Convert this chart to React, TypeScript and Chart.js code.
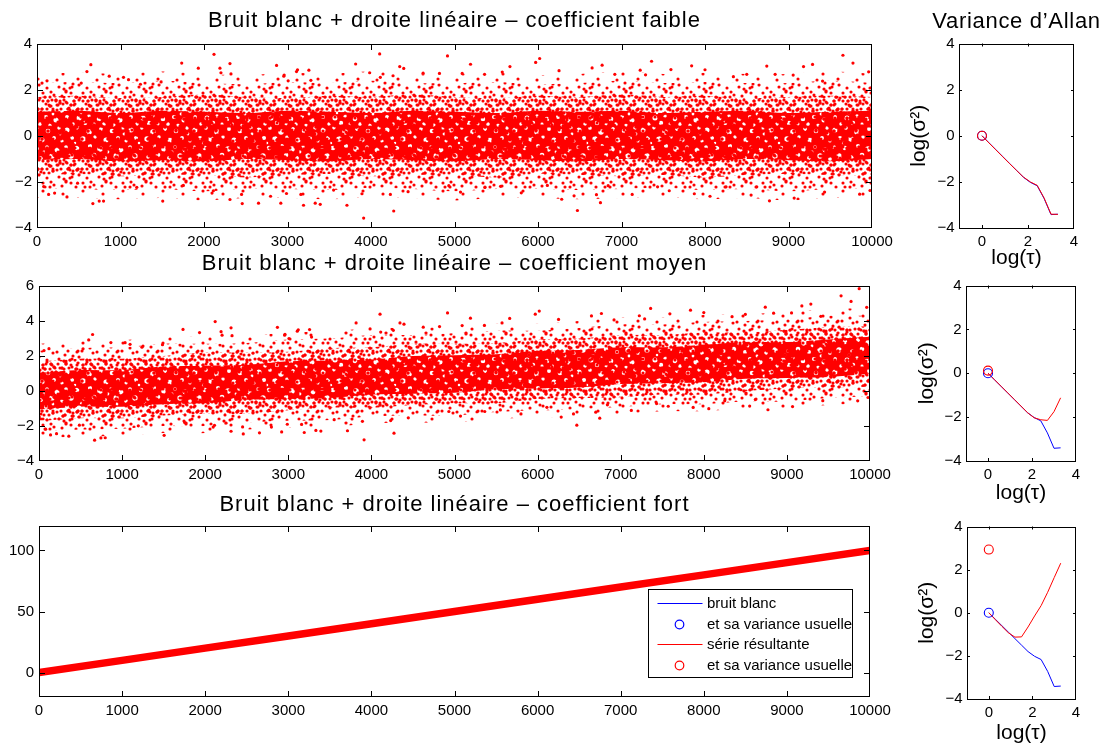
import React, { useEffect, useRef } from "react";
import { Chart, registerables } from "chart.js";

Chart.register(...registerables);

// ------------------------------------------------------------------ data
const SAMPLE_TICKS = [0, 1000, 2000, 3000, 4000, 5000, 6000, 7000, 8000, 9000, 10000];
const FAIBLE_Y_TICKS = [-4, -2, 0, 2, 4];
const MOYEN_Y_TICKS = [-4, -2, 0, 2, 4, 6];
const FORT_Y_TICKS = [0, 50, 100];
const LOG_TAU_TICKS = [0, 2, 4];
const LOG_SIGMA_TICKS = [-4, -2, 0, 2, 4];

const MAIN_TITLES = [
  "Bruit blanc + droite linéaire – coefficient faible",
  "Bruit blanc + droite linéaire – coefficient moyen",
  "Bruit blanc + droite linéaire – coefficient fort",
];
const ALLAN_TITLE = "Variance d’Allan";
const LOG_SIGMA_LABEL = "log(σ²)";
const LOG_TAU_LABEL = "log(τ)";

// envelopes of the point cloud (read every 500 samples)
const ENVELOPE_X = [0, 500, 1000, 1500, 2000, 2500, 3000, 3500, 4000, 4500, 5000, 5500, 6000, 6500, 7000, 7500, 8000, 8500, 9000, 9500, 10000];

const FAIBLE_CORE_HIGH = [1.05, 1.1, 1.0, 1.1, 1.05, 1.0, 1.1, 1.05, 1.0, 1.1, 1.05, 1.0, 1.1, 1.05, 1.1, 1.0, 1.05, 1.1, 1.0, 1.05, 1.1];
const FAIBLE_CORE_LOW = [-1.05, -1.0, -1.1, -1.05, -1.1, -1.0, -1.05, -1.1, -1.0, -1.05, -1.1, -1.0, -1.05, -1.1, -1.0, -1.05, -1.1, -1.0, -1.05, -1.1, -1.0];
const FAIBLE_MID_HIGH = [1.7, 1.75, 1.65, 1.7, 1.8, 1.7, 1.65, 1.75, 1.7, 1.8, 1.7, 1.65, 1.75, 1.7, 1.8, 1.7, 1.75, 1.65, 1.7, 1.75, 1.7];
const FAIBLE_MID_LOW = [-1.7, -1.65, -1.75, -1.7, -1.7, -1.8, -1.7, -1.65, -1.75, -1.7, -1.7, -1.8, -1.65, -1.7, -1.75, -1.7, -1.8, -1.7, -1.65, -1.7, -1.75];
const FAIBLE_OUTER_HIGH = [2.3, 2.35, 2.3, 2.4, 2.3, 2.25, 2.35, 2.3, 2.4, 2.3, 2.3, 2.35, 2.25, 2.3, 2.4, 2.3, 2.35, 2.3, 2.3, 2.4, 2.3];
const FAIBLE_OUTER_LOW = [-2.3, -2.3, -2.35, -2.3, -2.4, -2.3, -2.3, -2.35, -2.25, -2.3, -2.4, -2.3, -2.3, -2.35, -2.3, -2.25, -2.35, -2.3, -2.4, -2.3, -2.3];
const FAIBLE_FRINGE_HIGH = [2.7, 2.75, 2.7, 2.8, 2.7, 2.65, 2.75, 2.7, 2.8, 2.7, 2.7, 2.75, 2.65, 2.7, 2.8, 2.7, 2.75, 2.7, 2.7, 2.8, 2.7];
const FAIBLE_FRINGE_LOW = [-2.7, -2.7, -2.75, -2.7, -2.8, -2.7, -2.7, -2.75, -2.65, -2.7, -2.8, -2.7, -2.7, -2.75, -2.7, -2.65, -2.75, -2.7, -2.8, -2.7, -2.7];

const MOYEN_CORE_HIGH = [1.05, 1.2, 1.2, 1.4, 1.45, 1.5, 1.7, 1.75, 1.8, 2.0, 2.05, 2.1, 2.3, 2.35, 2.5, 2.5, 2.65, 2.8, 2.8, 2.95, 3.1];
const MOYEN_CORE_LOW = [-1.05, -0.9, -0.9, -0.75, -0.7, -0.5, -0.45, -0.4, -0.2, -0.15, -0.1, 0.1, 0.15, 0.2, 0.4, 0.45, 0.5, 0.7, 0.75, 0.8, 1.0];
const MOYEN_MID_HIGH = [1.7, 1.85, 1.85, 2.0, 2.2, 2.2, 2.25, 2.45, 2.5, 2.7, 2.7, 2.75, 2.95, 3.0, 3.2, 3.2, 3.35, 3.35, 3.5, 3.65, 3.7];
const MOYEN_MID_LOW = [-1.7, -1.55, -1.55, -1.4, -1.3, -1.3, -1.1, -0.95, -0.95, -0.8, -0.7, -0.7, -0.45, -0.4, -0.35, -0.2, -0.2, 0.0, 0.15, 0.2, 0.25];
const MOYEN_OUTER_HIGH = [2.3, 2.45, 2.5, 2.7, 2.7, 2.75, 2.95, 3.0, 3.2, 3.2, 3.3, 3.45, 3.45, 3.6, 3.8, 3.8, 3.95, 4.0, 4.1, 4.3, 4.3];
const MOYEN_OUTER_LOW = [-2.3, -2.2, -2.15, -2.0, -2.0, -1.8, -1.7, -1.65, -1.45, -1.4, -1.4, -1.2, -1.1, -1.05, -0.9, -0.75, -0.75, -0.6, -0.6, -0.4, -0.3];
const MOYEN_FRINGE_HIGH = [2.7, 2.85, 2.9, 3.1, 3.1, 3.15, 3.35, 3.4, 3.6, 3.6, 3.7, 3.85, 3.85, 4.0, 4.2, 4.2, 4.35, 4.4, 4.5, 4.7, 4.7];
const MOYEN_FRINGE_LOW = [-2.7, -2.6, -2.55, -2.4, -2.4, -2.2, -2.1, -2.05, -1.85, -1.8, -1.8, -1.6, -1.5, -1.45, -1.3, -1.15, -1.15, -1.0, -1.0, -0.8, -0.7];

// isolated points read outside the dense cloud: [sample, value]
const FAIBLE_SPARSE_POINTS: [number, number][] = [
  [645, 3.1], [598, 2.8], [530, 2.3], [60, 2.3], [120, 2.4], [865, 2.6], [1036, 2.55], [1096, 2.45], [1733, 3.17], [2120, 3.55],
  [1932, 2.95], [2191, 2.95], [2203, 2.75], [2311, 3.15], [2323, 2.7], [2869, 3.07], [2956, 2.6], [3008, 2.4], [3108, 2.8], [1486, 2.35],
  [1239, 2.25], [669, -2.94], [745, -2.83], [797, -2.83], [139, -2.54], [211, -2.48], [359, -2.65], [80, -2.2], [1506, -2.83], [2112, -2.38],
  [2096, -2.48], [2311, -2.76], [2458, -2.94], [2450, -2.54], [2653, -2.92], [2920, -2.92], [2797, -2.62], [2988, -2.5], [486, -2.05], [1195, -2.23],
  [1753, -2.15], [4104, 3.57], [4916, 3.48], [3816, 3.13], [6020, 3.37], [5972, 3.2], [5192, 3.12], [5664, 3.02], [4344, 3.02], [4392, 2.94],
  [3120, 2.88], [3256, 2.86], [3984, 2.75], [4624, 2.73], [4820, 2.72], [5092, 2.72], [5360, 2.68], [5572, 2.78], [6252, 2.84], [2960, 2.65],
  [3280, 2.42], [4264, 2.62], [4112, 2.55], [3912, -3.57], [4272, -3.26], [3192, -3.01], [3332, -2.92], [3392, -2.97], [3712, -3.01], [4232, -2.54],
  [3892, -2.51], [4444, -2.42], [5072, -2.44], [5364, -2.24], [5800, -2.47], [6284, -2.75], [6472, -3.24], [6432, -2.6], [3160, -2.54], [3552, -2.35],
  [4932, -2.16], [5552, -2.19], [6112, -2.15], [9652, 3.51], [9772, 3.17], [7360, 3.25], [6768, 3.08], [6648, 2.96], [7224, 2.86], [7288, 2.66],
  [7840, 3.05], [8000, 2.88], [8740, 3.04], [9180, 3.02], [9288, 3.11], [8500, 2.68], [8840, 2.68], [9056, 2.65], [9960, 2.79], [6920, 2.68],
  [7592, 2.89], [9408, 2.39], [8340, 2.58], [6748, -2.9], [6700, -2.55], [7128, -2.54], [7872, -2.51], [8060, -2.62], [8772, -2.82], [9068, -2.7],
  [8552, -2.57], [9432, -2.44], [9852, -2.53], [9976, -2.37], [7432, -2.21], [8252, -2.21], [6840, -2.16], [8620, -2.21], [7572, -2.38],
];

const MOYEN_SPARSE_POINTS: [number, number][] = [
  [645, 3.23], [598, 2.92], [530, 2.41], [60, 2.31], [120, 2.42], [865, 2.77], [1036, 2.76], [1096, 2.67], [1733, 3.52], [2120, 3.97],
  [1932, 3.34], [2191, 3.39], [2203, 3.19], [2311, 3.61], [2323, 3.16], [2869, 3.64], [2956, 3.19], [3008, 3.0], [3108, 3.42], [1486, 2.65],
  [1239, 2.5], [669, -2.81], [745, -2.68], [797, -2.67], [139, -2.51], [211, -2.44], [359, -2.58], [80, -2.18], [1506, -2.53], [2112, -1.96],
  [2096, -2.06], [2311, -2.3], [2458, -2.45], [2450, -2.05], [2653, -2.39], [2920, -2.34], [2797, -2.06], [2988, -1.9], [486, -1.95], [1195, -1.99],
  [1753, -1.8], [4104, 4.39], [4916, 4.46], [3816, 3.89], [6020, 4.57], [5972, 4.39], [5192, 4.16], [5664, 4.15], [4344, 3.89], [4392, 3.82],
  [3120, 3.5], [3256, 3.51], [3984, 3.55], [4624, 3.65], [4820, 3.68], [5092, 3.74], [5360, 3.75], [5572, 3.89], [6252, 4.09], [2960, 3.24],
  [3280, 3.08], [4264, 3.47], [4112, 3.37], [3912, -2.79], [4272, -2.41], [3192, -2.37], [3332, -2.25], [3392, -2.29], [3712, -2.27], [4232, -1.69],
  [3892, -1.73], [4444, -1.53], [5072, -1.43], [5364, -1.17], [5800, -1.31], [6284, -1.49], [6472, -1.95], [6432, -1.31], [3160, -1.91], [3552, -1.64],
  [4932, -1.17], [5552, -1.08], [6112, -0.93], [9652, 5.44], [9870, 5.85], [9772, 5.12], [7360, 4.72], [6768, 4.43], [6648, 4.29], [7224, 4.3],
  [7288, 4.12], [7840, 4.62], [8000, 4.48], [8740, 4.79], [9180, 4.86], [9288, 4.97], [8500, 4.38], [8840, 4.45], [9056, 4.46], [9960, 4.78],
  [6920, 4.06], [7592, 4.41], [9408, 4.27], [8340, 4.25], [6748, -1.55], [6700, -1.21], [7128, -1.11], [7872, -0.94], [8060, -1.01], [8772, -1.07],
  [9068, -0.89], [8552, -0.86], [9432, -0.55], [9852, -0.56], [9976, -0.37], [7432, -0.72], [8252, -0.56], [6840, -0.79], [8620, -0.49], [7572, -0.87],
];

// strong coefficient: the cloud hugs the line
const FORT_X = [0, 1000, 2000, 3000, 4000, 5000, 6000, 7000, 8000, 9000, 10000];
const FORT_Y = [0, 10, 20, 30, 40, 50, 60, 70, 80, 90, 100];

// Allan variance curves
const LOG_TAU = [0, 0.3, 0.6, 0.9, 1.2, 1.5, 1.8, 2.1, 2.4, 2.7, 3.0, 3.3];
const ALLAN_BRUIT_BLANC = [0, -0.3, -0.6, -0.9, -1.2, -1.5, -1.8, -2.02, -2.17, -2.72, -3.42, -3.4];
const ALLAN_SERIE_FAIBLE = [0, -0.31, -0.61, -0.91, -1.21, -1.5, -1.79, -2.0, -2.15, -2.7, -3.4, -3.41];
const ALLAN_SERIE_MOYEN = [0, -0.3, -0.6, -0.9, -1.2, -1.5, -1.8, -2.03, -2.12, -2.15, -1.75, -1.12];
const ALLAN_SERIE_FORT = [0, -0.32, -0.63, -0.93, -1.13, -1.12, -0.66, -0.15, 0.33, 0.95, 1.63, 2.3];

// usual variance (log) of each series: [log tau, log sigma^2]
const USUELLE_BRUIT_BLANC: [number, number] = [0, 0];
const USUELLE_FAIBLE: [number, number] = [0, 0];
const USUELLE_MOYEN: [number, number] = [0, 0.12];
const USUELLE_FORT: [number, number] = [0, 2.93];

const LEGEND_LABELS = ["bruit blanc", "et sa variance usuelle", "série résultante", "et sa variance usuelle"];

// ------------------------------------------------------------------ styles
const RED = "#ff0000";
const BLUE = "#0000ff";
const FONT = "'Liberation Sans', Arial, Helvetica, sans-serif";
const TICK_SIZE = 15;
const LABEL_SIZE = 21;

// texture of the dense cloud (style only)
const TEX_W = 40;
const TEX_H = 30;
const TEXTURE_DOTS = [
  [3, 3], [14, 5], [26, 2], [36, 7], [8, 11], [20, 13], [31, 15], [2, 19], [13, 21], [25, 23], [37, 20], [7, 28],
  [19, 27], [30, 28], [34, 11], [10, 16], [22, 6], [28, 19], [16, 10], [39, 25], [5, 7], [24, 29], [33, 24], [11, 2],
];
const HOLE_W = 64;
const HOLE_H = 48;
const TEXTURE_HOLES = [
  [3, 4, 2.2], [14, 2, 1.6], [25, 6, 2.4], [37, 3, 1.7], [48, 5, 2.0], [59, 2, 1.5],
  [8, 12, 1.8], [19, 13, 2.3], [31, 11, 1.5], [42, 14, 2.2], [54, 12, 1.7], [62, 15, 1.4],
  [2, 21, 1.6], [13, 22, 2.0], [26, 20, 1.8], [36, 23, 2.4], [47, 21, 1.5], [57, 24, 2.1],
  [7, 30, 2.3], [20, 31, 1.5], [30, 29, 2.0], [41, 32, 1.7], [52, 30, 2.3], [62, 33, 1.6],
  [3, 39, 1.7], [15, 40, 2.2], [25, 38, 1.5], [35, 41, 2.0], [46, 39, 1.8], [56, 42, 2.2],
  [9, 46, 1.5], [21, 45, 1.9], [40, 46, 1.6], [50, 47, 1.4], [30, 46, 1.3], [60, 8, 1.2],
  [44, 26, 1.2], [17, 35, 1.1], [53, 36, 1.2], [11, 17, 1.1],
];

function makeDotsPattern(ctx: CanvasRenderingContext2D, shifts: number[][], every = 1) {
  const c = document.createElement("canvas");
  c.width = TEX_W;
  c.height = TEX_H;
  const g = c.getContext("2d")!;
  g.fillStyle = RED;
  for (const [sx, sy] of shifts) {
    TEXTURE_DOTS.forEach(([x, y], k) => {
      if (k % every !== 0) return;
      const px = (x + sx) % TEX_W;
      const py = (y + sy) % TEX_H;
      for (const ox of [-TEX_W, 0, TEX_W]) {
        for (const oy of [-TEX_H, 0, TEX_H]) {
          g.beginPath();
          g.arc(px + ox, py + oy, 1.55, 0, Math.PI * 2);
          g.fill();
        }
      }
    });
  }
  return ctx.createPattern(c, "repeat")!;
}

function makeHolesPattern(ctx: CanvasRenderingContext2D) {
  const c = document.createElement("canvas");
  c.width = HOLE_W;
  c.height = HOLE_H;
  const g = c.getContext("2d")!;
  g.fillStyle = RED;
  g.fillRect(0, 0, HOLE_W, HOLE_H);
  g.globalCompositeOperation = "destination-out";
  for (const [x, y, r] of TEXTURE_HOLES) {
    for (const ox of [-HOLE_W, 0, HOLE_W]) {
      for (const oy of [-HOLE_H, 0, HOLE_H]) {
        g.beginPath();
        g.arc(x + ox, y + oy, r * 1.15, 0, Math.PI * 2);
        g.fill();
      }
    }
  }
  return ctx.createPattern(c, "repeat")!;
}

const fmtTick = (v: any) => (Number(v) < 0 ? "\u2212" + Math.abs(Number(v)) : String(v));

// box + inward ticks on four sides
const framePlugin = {
  id: "frame",
  afterDatasetsDraw(chart: any, _args: any, opts: any) {
    const { ctx, chartArea } = chart;
    const { left, right, top, bottom } = chartArea;
    const len = opts.tickLen || 5;
    const xs = chart.scales.x;
    const ys = chart.scales.y;
    ctx.save();
    ctx.strokeStyle = "#000";
    ctx.lineWidth = 1;
    ctx.beginPath();
    for (const t of xs.ticks) {
      const p = Math.round(xs.getPixelForValue(t.value)) + 0.5;
      if (p <= left + 1.5 || p >= right - 1.5) continue;
      ctx.moveTo(p, bottom);
      ctx.lineTo(p, bottom - len);
      ctx.moveTo(p, top);
      ctx.lineTo(p, top + len);
    }
    for (const t of ys.ticks) {
      const p = Math.round(ys.getPixelForValue(t.value)) + 0.5;
      if (p <= top + 1.5 || p >= bottom - 1.5) continue;
      ctx.moveTo(left, p);
      ctx.lineTo(left + len, p);
      ctx.moveTo(right, p);
      ctx.lineTo(right - len, p);
    }
    ctx.stroke();
    ctx.strokeRect(Math.round(left) + 0.5, Math.round(top) + 0.5, Math.round(right - left) - 1, Math.round(bottom - top) - 1);
    ctx.restore();
  },
};

const LEGEND_KINDS = [
  { color: BLUE, kind: "line" },
  { color: BLUE, kind: "circle" },
  { color: RED, kind: "line" },
  { color: RED, kind: "circle" },
];

const legendPlugin = {
  id: "boxLegend",
  afterDraw(chart: any) {
    const { ctx, chartArea } = chart;
    const bx = Math.round(chartArea.right - 222) + 0.5;
    const by = Math.round(chartArea.bottom - 108) + 0.5;
    const bw = 204;
    const bh = 88;
    ctx.save();
    ctx.fillStyle = "#fff";
    ctx.fillRect(bx, by, bw, bh);
    ctx.strokeStyle = "#000";
    ctx.lineWidth = 1;
    ctx.strokeRect(bx, by, bw, bh);
    ctx.font = `15px ${FONT}`;
    ctx.textBaseline = "middle";
    ctx.textAlign = "left";
    LEGEND_LABELS.forEach((label, i) => {
      const k = LEGEND_KINDS[i];
      const y = Math.round(by + 13.5 + i * 20.7);
      ctx.strokeStyle = k.color;
      ctx.lineWidth = 1.2;
      ctx.beginPath();
      if (k.kind === "line") {
        ctx.moveTo(bx + 9, y + 0.5);
        ctx.lineTo(bx + 54, y + 0.5);
      } else {
        ctx.arc(bx + 31, y + 0.5, 4.3, 0, Math.PI * 2);
      }
      ctx.stroke();
      ctx.fillStyle = "#000";
      ctx.fillText(label, bx + 58.5, y + 0.5);
    });
    ctx.restore();
  },
};

type AxisSpec = {
  xMin: number; xMax: number; xTicks: number[];
  yMin: number; yMax: number; yTicks: number[];
  yWidth: number; xHeight: number;
  padTop: number; padRight: number; padBottom: number;
  xPad: number; yPad: number; tickLen: number;
  xTitle?: string; yTitle?: string;
};

function baseOptions(a: AxisSpec): any {
  const tickFont = { family: FONT, size: TICK_SIZE };
  const titleFont = { family: FONT, size: LABEL_SIZE };
  return {
    responsive: false,
    maintainAspectRatio: false,
    animation: false,
    events: [],
    layout: { padding: { left: 0, right: a.padRight, top: a.padTop, bottom: a.padBottom } },
    plugins: {
      legend: { display: false },
      tooltip: { enabled: false },
      title: { display: false },
      frame: { tickLen: a.tickLen },
    },
    scales: {
      x: {
        type: "linear",
        position: "bottom",
        min: a.xMin,
        max: a.xMax,
        grid: { display: false, drawTicks: false },
        border: { display: false },
        afterBuildTicks: (s: any) => { s.ticks = a.xTicks.map((v) => ({ value: v })); },
        afterFit: (s: any) => { s.height = a.xHeight; },
        ticks: { font: tickFont, color: "#000", padding: a.xPad, maxRotation: 0, autoSkip: false, callback: fmtTick },
        title: a.xTitle
          ? { display: true, text: a.xTitle, font: titleFont, color: "#000", padding: 0 }
          : { display: false },
      },
      y: {
        type: "linear",
        position: "left",
        min: a.yMin,
        max: a.yMax,
        grid: { display: false, drawTicks: false },
        border: { display: false },
        afterBuildTicks: (s: any) => { s.ticks = a.yTicks.map((v) => ({ value: v })); },
        afterFit: (s: any) => { s.width = a.yWidth; },
        ticks: { font: tickFont, color: "#000", padding: a.yPad, autoSkip: false, callback: fmtTick },
        title: a.yTitle
          ? { display: true, text: a.yTitle, font: titleFont, color: "#000", padding: 0 }
          : { display: false },
      },
    },
  };
}

type Box = { L: number; R: number; T: number; B: number };

// ------------------------------------------------------------------ geometry
const MAIN_BOXES: Box[] = [
  { L: 37, R: 872, T: 42, B: 228 },
  { L: 39, R: 870, T: 284, B: 461 },
  { L: 39, R: 870, T: 524, B: 697 },
];
const SIDE_BOXES: (Box & { tx: number; ty: number })[] = [
  { L: 959, R: 1074, T: 42, B: 228, tx: 919.5, ty: 258 },
  { L: 966, R: 1076, T: 284, B: 461, tx: 927.5, ty: 493 },
  { L: 967, R: 1076, T: 525, B: 699, tx: 927.5, ty: 733 },
];
const TITLE_BASELINES = [27.5, 271, 511.5];

function mainCanvasRect(b: Box) {
  const padTop = 12, padRight = 26, xHeight = 30, padBottom = 2;
  return {
    left: 0,
    top: b.T - padTop,
    width: b.R + padRight,
    height: padTop + (b.B - b.T) + xHeight + padBottom,
    spec: { yWidth: b.L, xHeight, padTop, padRight, padBottom },
  };
}

function sideCanvasRect(b: Box & { tx: number; ty: number }) {
  const padTop = 12, padBottom = 2;
  const half = (LABEL_SIZE * 1.2) / 2;
  const left = Math.round(b.tx - half);
  const xHeight = Math.round(b.ty - b.B + half);
  return {
    left,
    top: b.T - padTop,
    width: 1110 - left,
    height: padTop + (b.B - b.T) + xHeight + padBottom,
    spec: { yWidth: b.L - left, xHeight, padTop, padRight: 1110 - b.R, padBottom },
  };
}

// ------------------------------------------------------------------ configs
const toPts = (xs: number[], ys: number[]) => xs.map((x, i) => ({ x, y: ys[i] }));

function noiseConfig(ctx: CanvasRenderingContext2D, i: number, cloud: any) {
  const dense = makeHolesPattern(ctx);
  const medium = makeDotsPattern(ctx, [[0, 0], [13, 8], [27, 17]]);
  const sparse = makeDotsPattern(ctx, [[0, 0]]);
  const fringe = makeDotsPattern(ctx, [[7, 4]], 3);
  const clear = "rgba(0,0,0,0)";
  const band = (ys: number[], fill: any, bg: any) => ({
    type: "line",
    data: toPts(ENVELOPE_X, ys),
    fill,
    backgroundColor: bg,
    borderColor: clear,
    borderWidth: 0,
    pointRadius: 0,
    tension: 0.35,
  });
  const r = mainCanvasRect(MAIN_BOXES[i]);
  return {
    type: "scatter",
    data: {
      datasets: [
        {
          type: "scatter",
          data: cloud.points.map(([x, y]: number[]) => ({ x, y })),
          pointRadius: 1.6,
          pointBackgroundColor: RED,
          pointBorderColor: RED,
          pointBorderWidth: 0,
        },
        band(cloud.coreHigh, "+1", dense),
        band(cloud.coreLow, false, clear),
        band(cloud.midHigh, "+1", medium),
        band(cloud.midLow, false, clear),
        band(cloud.outerHigh, "+1", sparse),
        band(cloud.outerLow, false, clear),
        band(cloud.fringeHigh, "+1", fringe),
        band(cloud.fringeLow, false, clear),
      ],
    },
    options: baseOptions({
      xMin: 0, xMax: 10000, xTicks: SAMPLE_TICKS,
      yMin: cloud.yMin, yMax: cloud.yMax, yTicks: cloud.yTicks,
      ...r.spec, xPad: 5, yPad: 5, tickLen: 6,
    }),
    plugins: [framePlugin],
  };
}

function fortConfig() {
  const r = mainCanvasRect(MAIN_BOXES[2]);
  return {
    type: "scatter",
    data: {
      datasets: [
        {
          type: "line",
          data: toPts(FORT_X, FORT_Y),
          borderColor: RED,
          borderWidth: 7.5,
          borderCapStyle: "round",
          pointRadius: 0,
          fill: false,
        },
      ],
    },
    options: baseOptions({
      xMin: 0, xMax: 10000, xTicks: SAMPLE_TICKS,
      yMin: -20, yMax: 120, yTicks: FORT_Y_TICKS,
      ...r.spec, xPad: 5, yPad: 5, tickLen: 6,
    }),
    plugins: [framePlugin, legendPlugin],
  };
}

function allanConfig(i: number, serie: number[], usuelleSerie: [number, number]) {
  const r = sideCanvasRect(SIDE_BOXES[i]);
  const circle = (p: [number, number], color: string) => ({
    type: "scatter",
    data: [{ x: p[0], y: p[1] }],
    pointRadius: 4.5,
    pointStyle: "circle",
    pointBackgroundColor: "rgba(0,0,0,0)",
    pointBorderColor: color,
    pointBorderWidth: 1.1,
  });
  const curve = (ys: number[], color: string) => ({
    type: "line",
    data: toPts(LOG_TAU, ys),
    borderColor: color,
    borderWidth: 1,
    pointRadius: 0,
    fill: false,
    tension: 0,
  });
  return {
    type: "scatter",
    data: {
      datasets: [
        circle(usuelleSerie, RED),
        circle(USUELLE_BRUIT_BLANC, BLUE),
        curve(serie, RED),
        curve(ALLAN_BRUIT_BLANC, BLUE),
      ],
    },
    options: baseOptions({
      xMin: -1, xMax: 4, xTicks: LOG_TAU_TICKS,
      yMin: -4, yMax: 4, yTicks: LOG_SIGMA_TICKS,
      ...r.spec, xPad: 4.5, yPad: 4.5, tickLen: 3,
      xTitle: LOG_TAU_LABEL, yTitle: LOG_SIGMA_LABEL,
    }),
    plugins: [framePlugin],
  };
}

// ------------------------------------------------------------------ components
function ChartCanvas({ rect, make }: { rect: any; make: (ctx: CanvasRenderingContext2D) => any }) {
  const ref = useRef<HTMLCanvasElement>(null);
  useEffect(() => {
    const canvas = ref.current!;
    const chart = new Chart(canvas, make(canvas.getContext("2d")!));
    return () => chart.destroy();
  }, []);
  return (
    <canvas
      ref={ref}
      width={rect.width}
      height={rect.height}
      style={{ position: "absolute", left: rect.left, top: rect.top, width: rect.width, height: rect.height }}
    />
  );
}

const TITLE_SIZE = 22;

function Title({ text, left, width, baseline, spacing }: { text: string; left: number; width: number; baseline: number; spacing: number }) {
  const top = baseline - ((TITLE_SIZE - 1.117 * TITLE_SIZE) / 2 + 0.905 * TITLE_SIZE);
  return (
    <div
      style={{
        position: "absolute",
        left,
        top,
        width,
        height: TITLE_SIZE,
        lineHeight: `${TITLE_SIZE}px`,
        fontSize: TITLE_SIZE,
        fontFamily: FONT,
        letterSpacing: spacing,
        textAlign: "center",
        whiteSpace: "nowrap",
        color: "#000",
      }}
    >
      {text}
    </div>
  );
}

export default function App() {
  const clouds = [
    {
      points: FAIBLE_SPARSE_POINTS,
      coreHigh: FAIBLE_CORE_HIGH, coreLow: FAIBLE_CORE_LOW,
      midHigh: FAIBLE_MID_HIGH, midLow: FAIBLE_MID_LOW,
      outerHigh: FAIBLE_OUTER_HIGH, outerLow: FAIBLE_OUTER_LOW,
      fringeHigh: FAIBLE_FRINGE_HIGH, fringeLow: FAIBLE_FRINGE_LOW,
      yMin: -4, yMax: 4, yTicks: FAIBLE_Y_TICKS,
    },
    {
      points: MOYEN_SPARSE_POINTS,
      coreHigh: MOYEN_CORE_HIGH, coreLow: MOYEN_CORE_LOW,
      midHigh: MOYEN_MID_HIGH, midLow: MOYEN_MID_LOW,
      outerHigh: MOYEN_OUTER_HIGH, outerLow: MOYEN_OUTER_LOW,
      fringeHigh: MOYEN_FRINGE_HIGH, fringeLow: MOYEN_FRINGE_LOW,
      yMin: -4, yMax: 6, yTicks: MOYEN_Y_TICKS,
    },
  ];
  const series = [ALLAN_SERIE_FAIBLE, ALLAN_SERIE_MOYEN, ALLAN_SERIE_FORT];
  const usuelles = [USUELLE_FAIBLE, USUELLE_MOYEN, USUELLE_FORT];

  return (
    <div
      style={{
        position: "absolute",
        left: 0,
        top: 0,
        width: 1110,
        height: 748,
        background: "#fff",
        overflow: "hidden",
      }}
    >
      <ChartCanvas rect={mainCanvasRect(MAIN_BOXES[0])} make={(ctx) => noiseConfig(ctx, 0, clouds[0])} />
      <ChartCanvas rect={mainCanvasRect(MAIN_BOXES[1])} make={(ctx) => noiseConfig(ctx, 1, clouds[1])} />
      <ChartCanvas rect={mainCanvasRect(MAIN_BOXES[2])} make={() => fortConfig()} />
      {SIDE_BOXES.map((b, i) => (
        <ChartCanvas key={i} rect={sideCanvasRect(b)} make={() => allanConfig(i, series[i], usuelles[i])} />
      ))}
      {MAIN_TITLES.map((t, i) => (
        <Title
          key={t}
          text={t}
          left={MAIN_BOXES[i].L}
          width={MAIN_BOXES[i].R - MAIN_BOXES[i].L}
          baseline={TITLE_BASELINES[i]}
          spacing={1}
        />
      ))}
      <Title text={ALLAN_TITLE} left={SIDE_BOXES[0].L - 60} width={SIDE_BOXES[0].R - SIDE_BOXES[0].L + 120} baseline={29} spacing={0.7} />
    </div>
  );
}
